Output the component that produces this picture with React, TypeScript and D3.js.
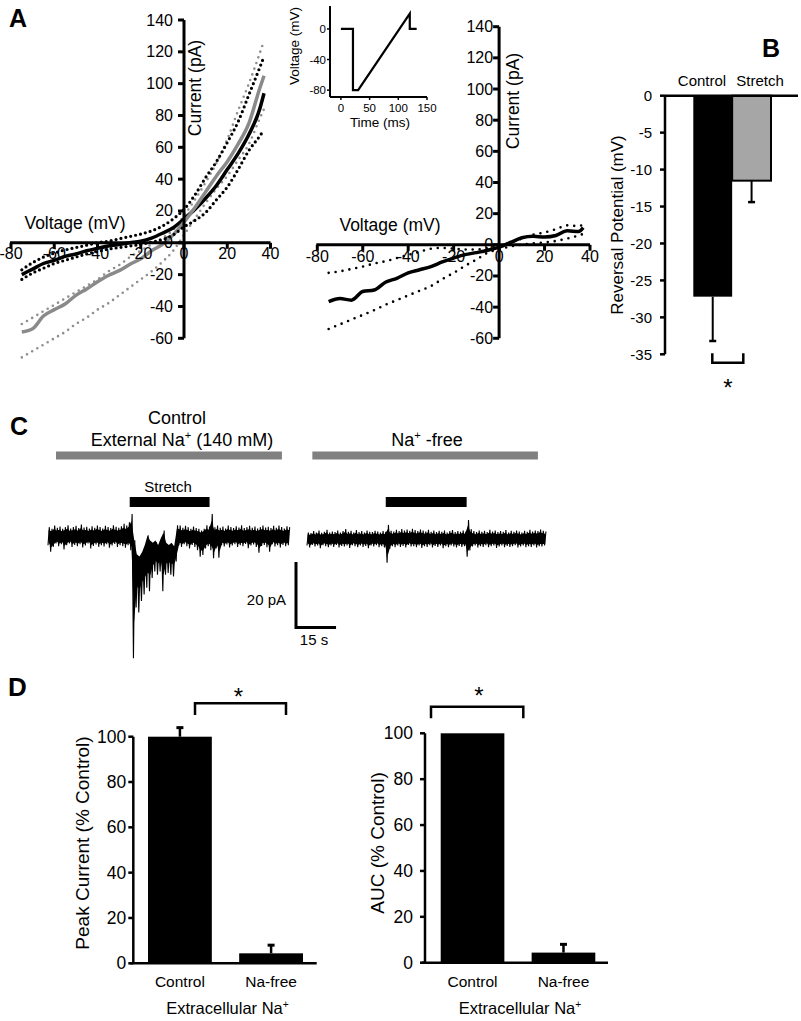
import React from 'react';
import * as d3 from 'd3';

const FONT = '"Liberation Sans", Arial, Helvetica, sans-serif';

// ---------- Panel A: ramp I-V relations (mV vs pA) ----------
const ivVolts = [-75, -70, -65, -60, -55, -50, -45, -40, -35, -30, -25, -20, -15, -10, -5, 0, 5, 10, 15, 20, 25, 30, 35, 37];

const leftBlack = [-20, -16.5, -13, -11, -8.5, -7, -5, -3.5, -2, -1, 0, 1, 3, 6, 9.5, 15, 21, 28, 36, 46, 56, 68, 84, 94];
const leftBlackHi = [-17, -12.5, -9, -6.5, -4.5, -3, -1.5, 0, 1, 2.5, 4, 5.5, 7.5, 10.5, 15, 21, 30, 41, 51, 63, 76, 93, 110, 117];
const leftBlackLo = [-23, -19, -16, -13, -11, -9, -7, -5.5, -4, -3, -2, -1, 0.5, 2, 5, 10, 14, 19, 27, 35, 46, 58, 67, 71];
const leftGray = [-56, -54, -46, -42, -38.5, -33, -29, -24.5, -20.5, -17.5, -13.5, -10, -5, -1, 5, 13, 22, 32, 42, 51, 62, 75, 97, 105];
const leftGrayHi = [-51, -47, -43, -39, -35, -31, -27, -23, -18, -14, -9, -5, -1, 3, 8, 17, 27, 38, 50, 65, 83, 100, 119, 127];
const leftGrayLo = [-72, -68, -64, -60, -56, -51, -47, -42, -38, -33, -28, -23, -18, -12, -5, 5, 15, 25, 34, 42, 52, 62, 78, 84];

const rightMean = [-36.5, -34.5, -35.5, -30, -29, -24, -21.5, -18, -16, -14, -11, -8.5, -6.3, -5, -3.5, -1.5, 1.5, 4.5, 5.5, 5, 6, 9, 8.5, 11];
const rightHi = [-18, -17, -15.5, -14, -12, -10.5, -8.5, -6.5, -4.5, -2.5, -2, -2.5, -3, -3, -2, -0.5, 1.5, 4, 6.5, 8, 10, 12.5, 12, 13];
const rightLo = [-54, -51, -48, -45, -42, -38.5, -35.5, -32.5, -29.5, -26.5, -22, -18, -13.5, -9.5, -5, -3, -1, 0, 1, 1.5, 2.5, 4, 6, 7];

const ivXTicks = [-80, -60, -40, -20, 0, 20, 40];
const ivYTicks = [-60, -40, -20, 0, 20, 40, 60, 80, 100, 120, 140];

// inset: voltage protocol
const rampTime = [0, 21, 21, 30, 120, 120, 132];
const rampVolt = [0, 0, -80, -80, 20, 0, 0];
const rampXTicks = [0, 50, 100, 150];
const rampYTicks = [0, -40, -80];

// ---------- Panel B: reversal potential ----------
const revCats = ['Control', 'Stretch'];
const revMean = [-27.2, -11.5];
const revErr = [6.0, 2.9];
const revTicks = [0, -5, -10, -15, -20, -25, -30, -35];

// ---------- Panel C: current traces, [min, max] pA per 1 s bin ----------
const ctrlTrace = [
  [-2.5, 3], [-4.5, 2.5], [-3, 3.5], [-2, 2.8], [-2.8, 3.2], [-2.2, 2.5], [-3.8, 3], [-2.5, 3.6], [-2, 2.6], [-3, 3],
  [-2.4, 3.4], [-2.8, 2.7], [-2.2, 3.8], [-3.2, 2.9], [-2.6, 3.1], [-2, 2.6], [-3.5, 3.3], [-2.7, 2.8], [-2.3, 3.5], [-3, 3],
  [-2.5, 2.6], [-2.9, 3.4], [-2.2, 3], [-3.3, 2.7], [-2.6, 3.6], [-2.1, 3.1], [-3, 2.8], [-2.5, 3.3], [-2.8, 4], [-3.3, 3.5],
  [-2.5, 4.5], [-4, 7], [-37, -1], [-21.5, -7.5], [-23, -8.5], [-19.5, -6.5], [-17.5, -3.5], [-15.5, 0.5], [-16.5, -1.5], [-12.5, -2.5],
  [-10.5, -1.5], [-11.5, -3.5], [-10.5, -0.5], [-16.5, 2], [-11.5, -2.5], [-11, -3.5], [-11.5, -2.5], [-12, -4], [-7.5, 3.6], [-2.5, 3.5],
  [-3, 2.8], [-2.2, 3.4], [-2.8, 3], [-3.5, 2.5], [-2.4, 3.2], [-3, 2.7], [-4, 2.5], [-6, 2], [-5.5, 2.5], [-3.5, 3.6],
  [-2.8, 3.2], [-4, 7], [-6.5, 3], [-3.5, 3.5], [-6.3, 2.8], [-2.5, 3.2], [-2.9, 2.6], [-2.3, 3.5], [-3.2, 3], [-2.6, 2.7],
  [-2.2, 3.3], [-3, 2.9], [-2.5, 3.6], [-2.8, 2.7], [-2.1, 3], [-3.4, 3.4], [-2.6, 2.8], [-2.3, 3.2], [-3, 2.6], [-4.8, 3],
  [-2.7, 3.5], [-2.4, 2.9], [-3.1, 3.1], [-4.5, 2.7], [-2.2, 3.4], [-2.9, 2.8], [-2.5, 3.5], [-3.2, 3], [-2.4, 2.6], [-2.8, 3.3],
  [-2.5, 3],
];
const naFreeTrace = [
  [-2, 2], [-2.6, 1.8], [-1.8, 2.4], [-2.3, 2], [-2, 2.6], [-2.8, 1.9], [-1.9, 2.2], [-2.2, 2.8], [-2.5, 2], [-2, 2.3],
  [-2.4, 2.1], [-1.8, 2.6], [-2.6, 2], [-2.1, 2.4], [-2.3, 3], [-2, 2.2], [-2.7, 2.5], [-1.9, 2], [-2.2, 2.7], [-2.5, 2.1],
  [-2, 2.4], [-2.4, 2], [-2.1, 2.6], [-2.8, 2.2], [-2, 2.1], [-2.3, 2.5], [-1.9, 2.3], [-2.5, 2], [-2.2, 2.4], [-2.6, 2.2],
  [-7.2, 4.3], [-3, 2.5], [-2.2, 2.3], [-2.5, 2.8], [-2, 2.4], [-2.4, 3], [-2.1, 2.6], [-2.6, 2.9], [-1.8, 2.5], [-2.3, 3.1],
  [-2.2, 2.7], [-2.5, 2.4], [-2, 2.9], [-2.7, 2.6], [-2.2, 2.3], [-2.4, 2.8], [-1.9, 2.2], [-2.6, 2.6], [-2.1, 2.1], [-2.4, 2.5],
  [-2, 2.2], [-2.8, 2.6], [-2.2, 2], [-2.5, 2.4], [-2, 2.7], [-2.3, 2.1], [-2.6, 2.4], [-2.1, 2.2], [-2.4, 2.6], [-2.2, 2.3],
  [-5.4, 5.8], [-3.5, 3], [-2.3, 2.4], [-2, 2.1], [-2.6, 2.6], [-2.2, 2.2], [-2.4, 2.5], [-1.9, 2.1], [-2.5, 2.8], [-2.2, 2.3],
  [-2, 2.6], [-2.7, 2.1], [-2.3, 2.4], [-2, 2.2], [-2.5, 2.7], [-2.1, 2], [-2.4, 2.5], [-2.2, 2.2], [-1.9, 2.6], [-2.6, 2.3],
  [-2.3, 2], [-2, 2.5], [-2.5, 2.2], [-2.2, 2.8], [-2.4, 2.3], [-2, 2.6], [-2.6, 2.4], [-2.2, 2.9], [-2.3, 2.5], [-2, 2.3],
];
const ctrlSolution = [3, 87.6];
const naSolution = [2, 86.5];
const ctrlStretch = [30.6, 60.5];
const naStretch = [29.5, 59.8];

// ---------- Panel D ----------
const naCats = ['Control', 'Na-free'];
const peakMean = [100, 4.4];
const peakErr = [4, 3.6];
const aucMean = [100, 4.4];
const aucErr = [0, 3.6];
const pctTicks = [0, 20, 40, 60, 80, 100];

// "Na" with a raised plus, optionally followed by more text
const NaPlus = ({ size, rest }: { size: number; rest?: string }) => (
  <>
    <tspan>Na</tspan>
    <tspan dy={-size * 0.38} fontSize={size * 0.62}>+</tspan>
    {rest && <tspan dy={size * 0.38}>{rest}</tspan>}
  </>
);

type Curve = { v: number[]; color: string; w: number; dash?: string };

function IVPlot({ xr, yr, curves, yLabGap, xLabDy, volt, cur }: any) {
  const x = d3.scaleLinear().domain([-80, 40]).range(xr);
  const y = d3.scaleLinear().domain([-60, 140]).range(yr);
  const line = d3.line<number>().x((_, i) => x(ivVolts[i])).y(d => y(d)).curve(d3.curveMonotoneX);
  const x0 = x(0), y0 = y(0);
  return (
    <g>
      {curves.map((c: Curve, i: number) => (
        <path key={i} d={line(c.v) || ''} fill="none" stroke={c.color} strokeWidth={c.w}
          strokeDasharray={c.dash} strokeLinecap={c.dash ? 'round' : 'butt'} strokeLinejoin="round" />
      ))}
      <line x1={x(-80) - 1} x2={x(40)} y1={y0} y2={y0} stroke="#000" strokeWidth={3} />
      <line x1={x0} x2={x0} y1={y(-60)} y2={y(140)} stroke="#000" strokeWidth={3} />
      {ivXTicks.map(t => (
        <g key={'x' + t}>
          <line x1={x(t)} x2={x(t)} y1={y0} y2={y0 + 6} stroke="#000" strokeWidth={3} />
          <text x={x(t)} y={y0 + xLabDy} textAnchor="middle" dominantBaseline="central" fontSize={16}>{t}</text>
        </g>
      ))}
      {ivYTicks.map(t => (
        <g key={'y' + t}>
          <line x1={x0 - 6} x2={x0} y1={y(t)} y2={y(t)} stroke="#000" strokeWidth={3} />
          <text x={x0 - yLabGap} y={y(t)} textAnchor="end" dominantBaseline="central" fontSize={16}>{t}</text>
        </g>
      ))}
      <text x={volt[0]} y={volt[1]} textAnchor="middle" fontSize={17.5}>Voltage (mV)</text>
      <text transform={`translate(${cur[0]},${cur[1]}) rotate(-90)`} textAnchor="middle" fontSize={17.5}>Current (pA)</text>
    </g>
  );
}

function RampInset() {
  const x = d3.scaleLinear().domain([-19, 150]).range([330, 427]);
  const y = d3.scaleLinear().domain([-89, 30]).range([97, 6]);
  const line = d3.line<number>().x((_, i) => x(rampTime[i])).y(d => y(d));
  return (
    <g>
      <path d={line(rampVolt) || ''} fill="none" stroke="#000" strokeWidth={2.2} strokeLinejoin="miter" />
      <line x1={330} x2={427} y1={y(-89)} y2={y(-89)} stroke="#000" strokeWidth={2} />
      <line x1={330} x2={330} y1={y(-89)} y2={y(30)} stroke="#000" strokeWidth={2} />
      {rampXTicks.map(t => (
        <g key={t}>
          <line x1={x(t)} x2={x(t)} y1={97} y2={100} stroke="#000" strokeWidth={1.5} />
          <text x={x(t)} y={108} textAnchor="middle" dominantBaseline="central" fontSize={11.5}>{t}</text>
        </g>
      ))}
      {rampYTicks.map(t => (
        <g key={t}>
          <line x1={327} x2={330} y1={y(t)} y2={y(t)} stroke="#000" strokeWidth={1.5} />
          <text x={326} y={y(t)} textAnchor="end" dominantBaseline="central" fontSize={11.5}>{t}</text>
        </g>
      ))}
      <text x={380} y={127} textAnchor="middle" fontSize={13.5}>Time (ms)</text>
      <text transform="translate(299,46) rotate(-90)" textAnchor="middle" fontSize={13.5}>Voltage (mV)</text>
    </g>
  );
}

function ReversalPlot() {
  const y = d3.scaleLinear().domain([-35, 0]).range([354.3, 95.7]);
  const x = d3.scaleBand().domain(revCats).range([693.3, 771]).padding(0);
  const ax = 665;
  return (
    <g>
      {revCats.map((c, i) => {
        const cx = (x(c) as number) + x.bandwidth() / 2;
        const yb = y(revMean[i]);
        const ye = y(revMean[i] - revErr[i]);
        return (
          <g key={c}>
            <line x1={cx} x2={cx} y1={yb} y2={ye} stroke="#000" strokeWidth={2} />
            <line x1={cx - 3.5} x2={cx + 3.5} y1={ye} y2={ye} stroke="#000" strokeWidth={2.5} />
            <rect x={x(c)} y={y(0)} width={x.bandwidth()} height={yb - y(0)}
              fill={i === 0 ? '#000' : '#a6a6a6'} stroke="#000" strokeWidth={i === 0 ? 0 : 2} />
          </g>
        );
      })}
      <line x1={ax} x2={798} y1={y(0)} y2={y(0)} stroke="#000" strokeWidth={2.5} />
      <line x1={ax} x2={ax} y1={y(-35)} y2={y(0)} stroke="#000" strokeWidth={2.5} />
      {revTicks.map(t => (
        <g key={t}>
          <line x1={ax - 5} x2={ax} y1={y(t)} y2={y(t)} stroke="#000" strokeWidth={2.5} />
          <text x={652} y={y(t)} textAnchor="end" dominantBaseline="central" fontSize={15}>{t}</text>
        </g>
      ))}
      <text x={702} y={86} textAnchor="middle" fontSize={15}>Control</text>
      <text x={760} y={86} textAnchor="middle" fontSize={15}>Stretch</text>
      <text transform="translate(623,225) rotate(-90)" textAnchor="middle" fontSize={17}>Reversal Potential (mV)</text>
      <path d="M712.3,353.3 V362.7 H743.3 V353.3" fill="none" stroke="#000" strokeWidth={2.5} />
      <text x={728} y={396} textAnchor="middle" fontSize={24}>*</text>
    </g>
  );
}

function Trace({ data, t, y }: any) {
  // filled min/max band plus a zig-zag through the extremes
  const area = d3.area<number[]>()
    .x((_, i) => t(i + 0.25))
    .y0(d => y(d[0] * 0.7))
    .y1(d => y(d[1] * 0.7));
  const pts: [number, number][] = [];
  data.forEach(([lo, hi]: number[], i: number) => {
    pts.push([t(i), y(lo)]);
    pts.push([t(i + 0.5), y(hi)]);
  });
  return (
    <g>
      <path d={area(data) || ''} fill="#000" />
      <path d={d3.line()(pts) || ''} fill="none" stroke="#000" strokeWidth={1.1} strokeLinejoin="bevel" />
    </g>
  );
}

function TracePanel() {
  const tL = d3.scaleLinear().domain([0, 91]).range([48, 291]);
  const tR = d3.scaleLinear().domain([0, 89]).range([307, 544.6]);
  const iL = d3.scaleLinear().domain([0, 20]).range([537, 471.4]);
  const iR = d3.scaleLinear().domain([0, 20]).range([539, 473.4]);
  const sbX = 296, sbY = 627.5;
  const sbW = tL(15) - tL(0);
  const sbH = iL(0) - iL(20);
  return (
    <g>
      <text x={177} y={424} textAnchor="middle" fontSize={18}>Control</text>
      <text x={182} y={446} textAnchor="middle" fontSize={18}>External <NaPlus size={18} rest=" (140 mM)" /></text>
      <text x={427} y={446} textAnchor="middle" fontSize={18}><NaPlus size={18} rest=" -free" /></text>
      <rect x={tL(ctrlSolution[0])} y={451.5} width={tL(ctrlSolution[1]) - tL(ctrlSolution[0])} height={8} fill="#808080" />
      <rect x={tR(naSolution[0])} y={451.5} width={tR(naSolution[1]) - tR(naSolution[0])} height={8} fill="#808080" />
      <text x={168} y={491.5} textAnchor="middle" fontSize={15}>Stretch</text>
      <rect x={tL(ctrlStretch[0])} y={497} width={tL(ctrlStretch[1]) - tL(ctrlStretch[0])} height={10} fill="#000" />
      <rect x={tR(naStretch[0])} y={497} width={tR(naStretch[1]) - tR(naStretch[0])} height={10} fill="#000" />
      <Trace data={ctrlTrace} t={tL} y={iL} />
      <Trace data={naFreeTrace} t={tR} y={iR} />
      <path d={`M${sbX},${sbY - sbH} V${sbY} H${sbX + sbW}`} fill="none" stroke="#000" strokeWidth={3} />
      <text x={286} y={605} textAnchor="end" fontSize={15}>20 pA</text>
      <text x={314} y={645} textAnchor="middle" fontSize={15}>15 s</text>
    </g>
  );
}

function PctBars({ axisX, yr, br, axisEnd, means, errs, labGap, title, titleX, bracket, star }: any) {
  const y = d3.scaleLinear().domain([0, 100]).range(yr);
  const x = d3.scaleBand().domain(naCats).range(br).paddingInner(0.3).paddingOuter(0);
  const y0 = y(0);
  return (
    <g>
      {naCats.map((c, i) => {
        const cx = (x(c) as number) + x.bandwidth() / 2;
        const yt = y(means[i]);
        const ye = y(means[i] + errs[i]);
        return (
          <g key={c}>
            {errs[i] > 0 && <line x1={cx} x2={cx} y1={yt} y2={ye} stroke="#000" strokeWidth={2.5} />}
            {errs[i] > 0 && <line x1={cx - 3.5} x2={cx + 3.5} y1={ye} y2={ye} stroke="#000" strokeWidth={3} />}
            <rect x={x(c)} y={yt} width={x.bandwidth()} height={y0 - yt} fill="#000" />
            <text x={cx} y={987} textAnchor="middle" fontSize={15.5}>{c}</text>
          </g>
        );
      })}
      <line x1={axisX - 3} x2={axisEnd} y1={y0} y2={y0} stroke="#000" strokeWidth={2.5} />
      <line x1={axisX} x2={axisX} y1={y0} y2={y(100)} stroke="#000" strokeWidth={2.5} />
      {pctTicks.map(t => (
        <g key={t}>
          <line x1={axisX - 5} x2={axisX} y1={y(t)} y2={y(t)} stroke="#000" strokeWidth={2.5} />
          <text x={axisX - labGap} y={y(t)} textAnchor="end" dominantBaseline="central" fontSize={17.5}>{t}</text>
        </g>
      ))}
      <text x={(br[0] + br[1]) / 2 + 2} y={1014} textAnchor="middle" fontSize={16.5}>Extracellular <NaPlus size={16.5} /></text>
      <text transform={`translate(${titleX},843) rotate(-90)`} textAnchor="middle" fontSize={19}>{title}</text>
      <path d={`M${bracket[0]},${bracket[3]} V${bracket[2]} H${bracket[1]} V${bracket[3]}`} fill="none" stroke="#000" strokeWidth={2.5} />
      <text x={star[0]} y={star[1]} textAnchor="middle" fontSize={24}>*</text>
    </g>
  );
}

export default function App() {
  return (
    <svg width={801} height={1021} viewBox="0 0 801 1021"
      style={{ position: 'absolute', left: 0, top: 0, background: '#fff', fontFamily: FONT }}>
      <rect width={801} height={1021} fill="#fff" />
      {/* panel letters */}
      <text x={9} y={27} fontSize={25} fontWeight="bold">A</text>
      <text x={762} y={57} fontSize={25} fontWeight="bold">B</text>
      <text x={10} y={435} fontSize={25} fontWeight="bold">C</text>
      <text x={8} y={696} fontSize={26} fontWeight="bold">D</text>

      <IVPlot xr={[11, 270.5]} yr={[338.3, 20]} yLabGap={11} xLabDy={11} volt={[75, 229]} cur={[201, 88]}
        curves={[
          { v: leftGrayLo, color: '#8f8f8f', w: 2.6, dash: '0 6' },
          { v: leftGrayHi, color: '#8f8f8f', w: 2.6, dash: '0 6' },
          { v: leftBlack, color: '#000', w: 3.5 },
          { v: leftGray, color: '#8a8a8a', w: 3.5 },
          { v: leftBlackLo, color: '#000', w: 3.2, dash: '0 5' },
          { v: leftBlackHi, color: '#000', w: 3.2, dash: '0 5' },
        ]} />
      <IVPlot xr={[317.3, 590]} yr={[338.3, 26.7]} yLabGap={6} xLabDy={12} volt={[390, 231]} cur={[519, 101]}
        curves={[
          { v: rightHi, color: '#000', w: 2.6, dash: '0 7' },
          { v: rightLo, color: '#000', w: 2.6, dash: '0 7' },
          { v: rightMean, color: '#000', w: 3.5 },
        ]} />
      <RampInset />
      <ReversalPlot />
      <TracePanel />
      <PctBars axisX={133.3} yr={[963.3, 736.7]} br={[148, 303]} axisEnd={316.7}
        means={peakMean} errs={peakErr} labGap={7} title="Peak Current (% Control)" titleX={89}
        bracket={[195, 286, 703.3, 715]} star={[238.3, 705]} />
      <PctBars axisX={425} yr={[962.7, 733.3]} br={[440.7, 595.3]} axisEnd={608}
        means={aucMean} errs={aucErr} labGap={12} title="AUC (% Control)" titleX={384}
        bracket={[431, 523.3, 706.7, 718.3]} star={[479, 704]} />
    </svg>
  );
}
